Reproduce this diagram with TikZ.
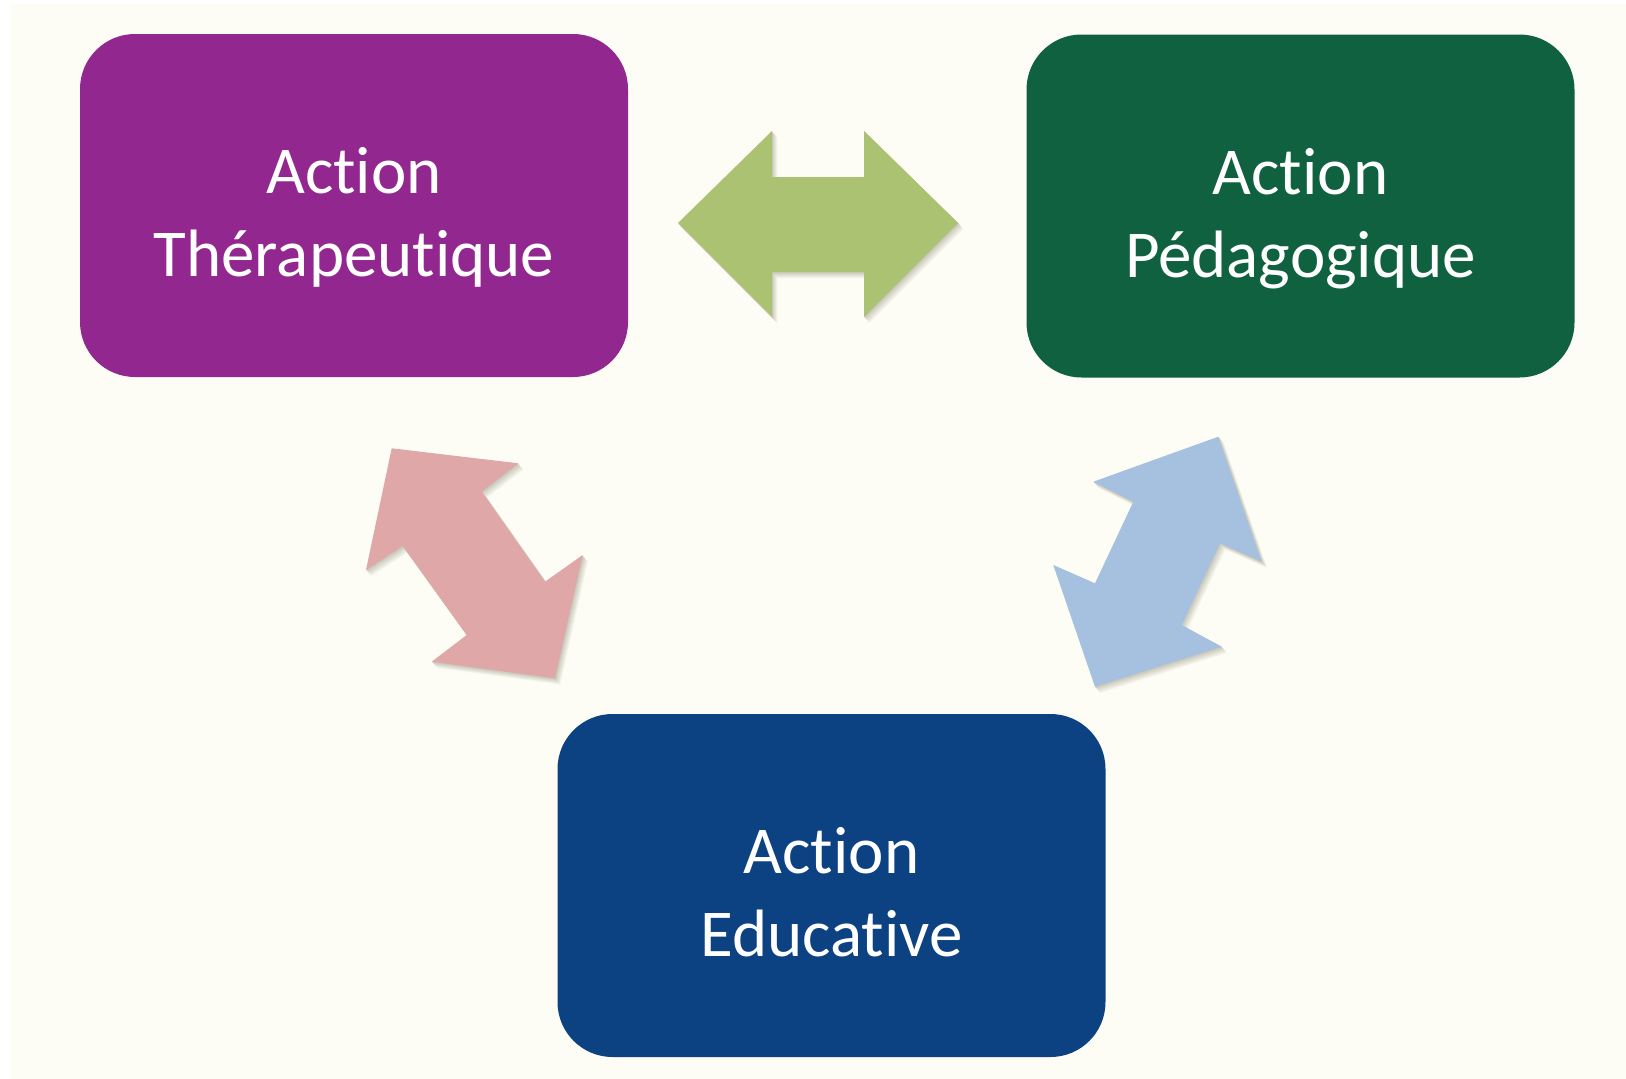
\documentclass[tikz,border=0pt]{standalone}
\usepackage{fontspec}
\setmainfont{Carlito}[Ligatures=NoCommon]
\newfontfamily\lblfont{Carlito}[Ligatures=NoCommon]
\definecolor{bgcream}{HTML}{FDFDF5}
\definecolor{cpurple}{HTML}{92278F}
\definecolor{cgreen}{HTML}{0F6140}
\definecolor{cblue}{HTML}{0D4282}
\definecolor{agreen}{HTML}{ABC273}
\definecolor{apink}{HTML}{DFA7A7}
\definecolor{ablue}{HTML}{A6C1DF}
\definecolor{shadowcol}{HTML}{5A5A40}
\newcommand\greenarrowpath{(678,223) -- (772,131) -- (772,177) -- (864,177) -- (864,131) -- (958,223)
  -- (864,317) -- (864,272) -- (772,272) -- (772,317) -- cycle}
\newcommand\pinkarrowpath{(391.7,448.3) -- (518.3,463.3) -- (481.7,491.7) -- (545,581.7) -- (582.7,555)
  -- (555,678.3) -- (431.7,661.7) -- (466.7,635) -- (402.7,546) -- (366,570) -- cycle}
\newcommand\bluearrowpath{(1218.3,436.7) -- (1261.7,561.7) -- (1220,543.3) -- (1181.7,625) -- (1221.7,646.7)
  -- (1095,686.7) -- (1053.3,565) -- (1095,583.3) -- (1133.3,501.7) -- (1093.3,481.7) -- cycle}
\begin{document}
\begin{tikzpicture}[x=1pt,y=-1pt,
  box/.style={rounded corners=55pt, minimum width=548pt, minimum height=343pt, inner sep=0pt, draw=none},
  lbl/.style={text=white, align=center, font=\lblfont\fontsize{67}{83}\selectfont, inner sep=0pt}]
\fill[white] (0,0) rectangle (1626,1079);
\fill[bgcream] (10,4) rectangle (1626,1079);
\useasboundingbox (0,0) rectangle (1626,1079);

\foreach \s in {9,...,1} {
  \pgfmathtruncatemacro\p{36-3.5*\s}
  \fill[shadowcol!\p!bgcream, shift={(0.6*\s,0.7*\s)}] \greenarrowpath;
  \fill[shadowcol!\p!bgcream, shift={(0.6*\s,0.7*\s)}] \pinkarrowpath;
  \fill[shadowcol!\p!bgcream, shift={(0.6*\s,0.7*\s)}] \bluearrowpath;
}
\fill[agreen] \greenarrowpath;
\fill[apink] \pinkarrowpath;
\fill[ablue] \bluearrowpath;

\node[box, fill=cpurple] (ther) at (354,205.5) {};
\node[box, fill=cgreen] (peda) at (1300.5,206) {};
\node[box, fill=cblue] (educ) at (831.5,885.5) {};

\node[lbl, anchor=base] (therlbl) at ([yshift=-243pt]ther.north) {Action\\Thérapeutique};
\node[lbl, anchor=base] (pedalbl) at ([yshift=-243pt]peda.north) {Action\\Pédagogique};
\node[lbl, anchor=base] (educlbl) at ([yshift=-243pt]educ.north) {Action\\Educative};
\end{tikzpicture}
\end{document}
